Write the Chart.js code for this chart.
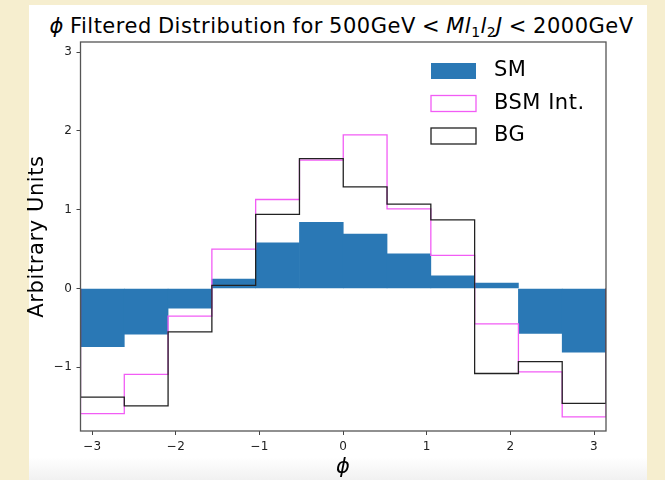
<!DOCTYPE html>
<html>
<head>
<meta charset="utf-8">
<script src="https://cdn.jsdelivr.net/npm/chart.js@4.4.1/dist/chart.umd.min.js"></script>
<style>
  html, body { margin: 0; padding: 0; }
  body {
    width: 665px; height: 480px; overflow: hidden; position: relative;
    background: #f6eecf;
    font-family: "DejaVu Sans", sans-serif;
  }
  #fig {
    position: absolute; left: 29px; top: 5px; width: 618px; height: 475px;
    background: linear-gradient(to bottom, #ffffff 0, #ffffff 452px, #f1f1f1 475px);
  }
  #title {
    position: absolute; left: 9px; top: 14px; width: 665px;
    text-align: center; font-size: 21px; line-height: 24px; color: #000;
    letter-spacing: 0.5px; word-spacing: -1px; white-space: nowrap;
  }
  #title sub { font-size: 14px; line-height: 0; vertical-align: -4px; letter-spacing: 0.3px; }
  #chart { position: absolute; left: 0; top: 0; }
</style>
</head>
<body>
<div id="fig"></div>
<div id="title"><i>ϕ</i> Filtered Distribution for 500GeV &lt; <i>Ml</i><sub>1</sub><i>l</i><sub>2</sub><i>J</i> &lt; 2000GeV</div>
<canvas id="chart" width="665" height="480"></canvas>
<script>
// phi 히스토그램: 12개 bin, -pi ~ pi
var binEdges   = [-3.1416, -2.618, -2.0944, -1.5708, -1.0472, -0.5236, 0, 0.5236, 1.0472, 1.5708, 2.0944, 2.618, 3.1416];
var binCenters = [-2.8798, -2.3562, -1.8326, -1.309, -0.7854, -0.2618, 0.2618, 0.7854, 1.309, 1.8326, 2.3562, 2.8798];

var smVals  = [-0.74, -0.58, -0.25, 0.12, 0.58, 0.84, 0.69, 0.44, 0.16, 0.07, -0.57, -0.81];
var bsmVals = [-1.59, -1.09, -0.35, 0.50, 1.13, 1.63, 1.95, 1.01, 0.42, -0.45, -1.06, -1.63];
var bgVals  = [-1.38, -1.49, -0.55, 0.04, 0.94, 1.65, 1.29, 1.07, 0.87, -1.08, -0.93, -1.46];

var xTicks = [-3, -2, -1, 0, 1, 2, 3];
var yTicks = [-1, 0, 1, 2, 3];
var yMin = -1.81, yMax = 3.13;

var FONT = '"DejaVu Sans", sans-serif';

function stepPoints(vals) {
  // matplotlib histtype='step' 처럼 baseline 에서 시작해서 baseline 으로 끝남
  var pts = [{ x: binEdges[0], y: 0 }];
  for (var i = 0; i < vals.length; i++) pts.push({ x: binEdges[i], y: vals[i] });
  pts.push({ x: binEdges[vals.length], y: vals[vals.length - 1] });
  pts.push({ x: binEdges[vals.length], y: 0 });
  return pts;
}

function minusFmt(v) { return String(v).replace('-', '\u2212'); }

// matplotlib 글자가 조금 더 넓게 찍혀서 자간을 살짝 줌
var spacing = {
  id: 'spacing',
  beforeDraw: function (chart) { chart.ctx.letterSpacing = '0.6px'; }
};

var frame = {
  id: 'frame',
  afterDatasetsDraw: function (chart) {
    var a = chart.chartArea, ctx = chart.ctx;
    ctx.save();
    ctx.strokeStyle = '#555';
    ctx.lineWidth = 1.3;
    ctx.strokeRect(a.left, a.top, a.right - a.left, a.bottom - a.top);
    ctx.restore();
  }
};

var boxLegend = {
  id: 'boxLegend',
  afterDraw: function (chart) {
    var a = chart.chartArea, ctx = chart.ctx;
    var x0 = a.right - 175, y0 = a.top + 21;
    ctx.save();
    ctx.font = '21px ' + FONT;
    ctx.letterSpacing = '0.5px';
    ctx.textBaseline = 'middle';
    chart.data.datasets.forEach(function (ds, i) {
      var y = y0 + i * 32.5;
      if (ds.type === 'bar') {
        ctx.fillStyle = ds.backgroundColor;
        ctx.fillRect(x0, y, 45, 16);
      } else {
        ctx.strokeStyle = ds.borderColor;
        ctx.lineWidth = 1.3;
        ctx.strokeRect(x0, y, 45, 16);
      }
      ctx.fillStyle = '#000';
      ctx.fillText(ds.label, x0 + 63, y + 8);
    });
    ctx.restore();
  }
};

new Chart(document.getElementById('chart').getContext('2d'), {
  type: 'line',
  data: {
    datasets: [
      {
        type: 'bar',
        label: 'SM',
        data: binCenters.map(function (c, i) { return { x: c, y: smVals[i] }; }),
        backgroundColor: '#2a78b5',
        borderWidth: 0,
        categoryPercentage: 1.0,
        barPercentage: 1.0,
        order: 3
      },
      {
        label: 'BSM Int.',
        data: stepPoints(bsmVals),
        borderColor: '#f25cf5',
        borderWidth: 1.3,
        pointRadius: 0,
        stepped: true,
        fill: false,
        order: 2
      },
      {
        label: 'BG',
        data: stepPoints(bgVals),
        borderColor: '#222',
        borderWidth: 1.3,
        pointRadius: 0,
        stepped: true,
        fill: false,
        order: 1
      }
    ]
  },
  options: {
    responsive: false,
    animation: false,
    layout: { padding: { left: 0, right: 59, top: 42, bottom: 0 } },
    plugins: { legend: { display: false }, tooltip: { enabled: false }, title: { display: false } },
    scales: {
      x: {
        type: 'linear',
        min: binEdges[0],
        max: binEdges[binEdges.length - 1],
        offset: false,
        afterBuildTicks: function (s) { s.ticks = xTicks.map(function (v) { return { value: v }; }); },
        afterFit: function (s) { s.height = 49; },
        grid: { offset: false, drawOnChartArea: false, drawTicks: true, tickLength: 4, tickColor: '#444', tickWidth: 1 },
        border: { display: false },
        ticks: { color: '#222', font: { family: FONT, size: 12 }, padding: 5, maxRotation: 0, callback: minusFmt },
        title: { display: true, text: 'ϕ', color: '#000', font: { family: FONT, size: 21, style: 'italic' }, padding: { top: 0, bottom: 0 } }
      },
      y: {
        min: yMin,
        max: yMax,
        afterBuildTicks: function (s) { s.ticks = yTicks.map(function (v) { return { value: v }; }); },
        afterFit: function (s) { s.width = 80.5; },
        grid: { drawOnChartArea: false, drawTicks: true, tickLength: 4, tickColor: '#444', tickWidth: 1 },
        border: { display: false },
        ticks: { color: '#222', font: { family: FONT, size: 12 }, padding: 4, callback: minusFmt },
        title: { display: true, text: 'Arbitrary Units', color: '#000', font: { family: FONT, size: 21 }, padding: { top: 25, bottom: 0 } }
      }
    }
  },
  plugins: [spacing, frame, boxLegend]
});
</script>
</body>
</html>
